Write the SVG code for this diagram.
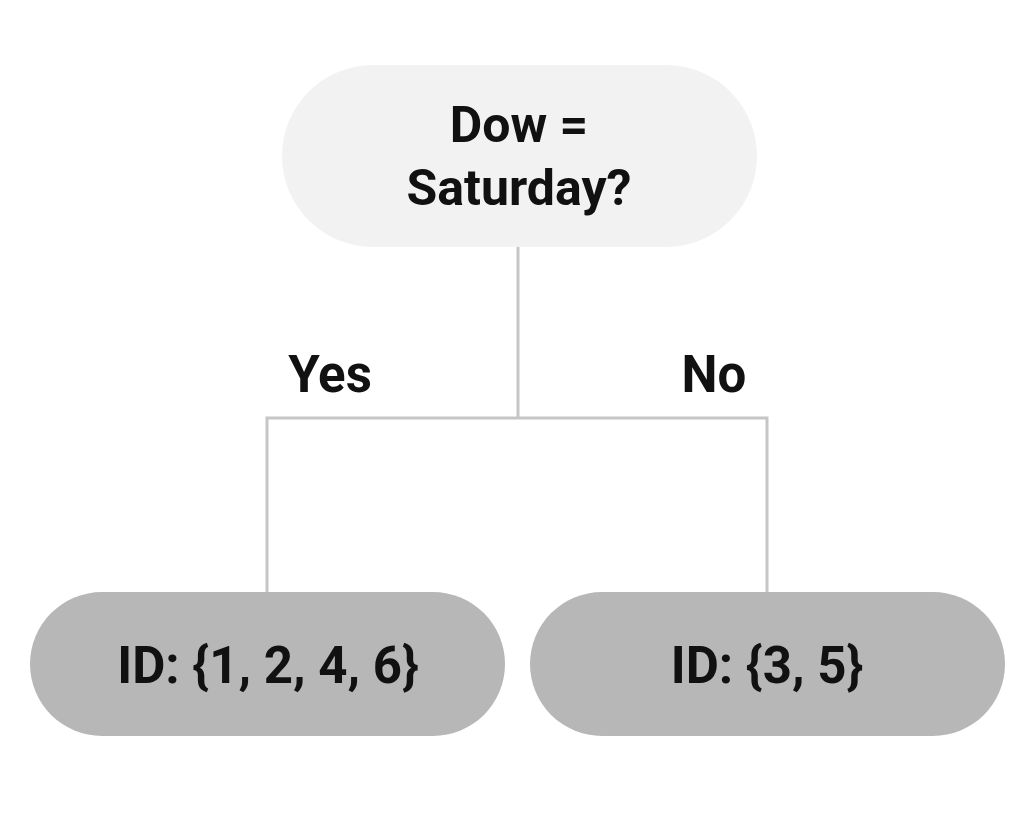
<svg xmlns="http://www.w3.org/2000/svg" width="1033" height="813" viewBox="0 0 1033 813">
<style>
.t{font-family:Roboto,"Liberation Sans",sans-serif;font-weight:bold;font-size:51px;fill:#111;text-anchor:middle}
.r{font-size:50px}
.c{fill:none;stroke:#c6c6c6;stroke-width:3}
</style>
<rect width="1033" height="813" fill="#fff"/>
<g id="connectors">
<path class="c" d="M518 246 V418 M267 592 V418 H767 V592"/>
<text class="t" x="330" y="392">Yes</text>
<text class="t" x="714" y="392">No</text>
</g>
<g id="root">
<rect x="282" y="65" width="475" height="182" rx="91" fill="#f2f2f2"/>
<text class="t r" x="519" y="142">Dow =</text>
<text class="t r" x="519" y="205">Saturday?</text>
</g>
<g id="yes-leaf">
<rect x="30" y="592" width="475" height="144" rx="72" fill="#b7b7b7"/>
<text class="t" x="268" y="683">ID: {1, 2, 4, 6}</text>
</g>
<g id="no-leaf">
<rect x="530" y="592" width="475" height="144" rx="72" fill="#b7b7b7"/>
<text class="t" x="767" y="683">ID: {3, 5}</text>
</g>
</svg>
